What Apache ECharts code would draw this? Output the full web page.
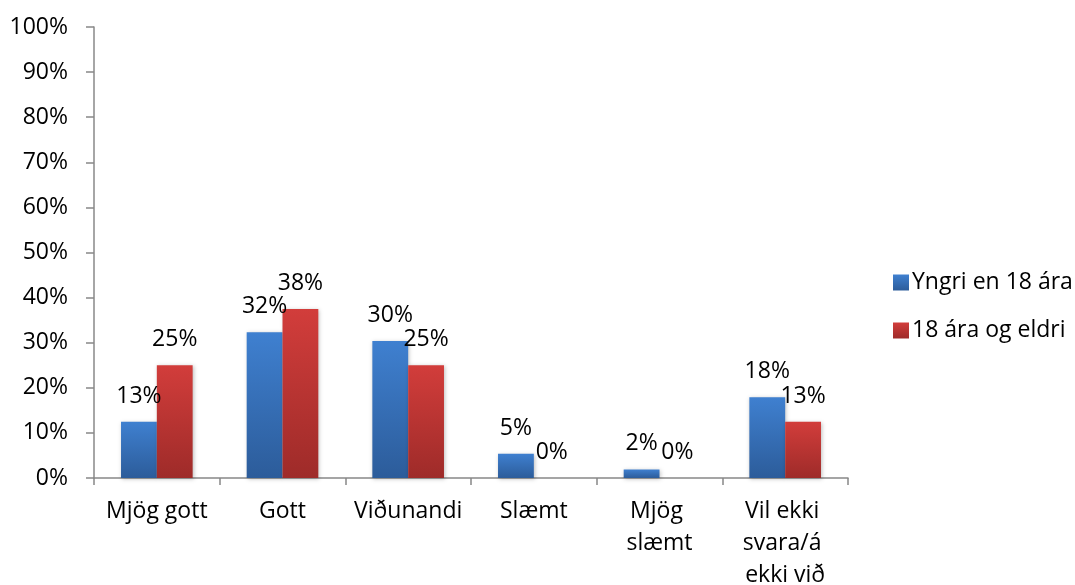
<!DOCTYPE html>
<html>
<head>
<meta charset="utf-8">
<script src="https://cdn.jsdelivr.net/npm/echarts@6/dist/echarts.min.js"></script>
<style>
  html, body { margin: 0; padding: 0; background: #fff; }
  #chart { width: 1075px; height: 585px; }
</style>
</head>
<body>
<div id="chart"></div>
<script>
const categories = ['Mjög gott', 'Gott', 'Viðunandi', 'Slæmt', 'Mjög slæmt', 'Vil ekki svara/á ekki við'];
const seriesNames = ['Yngri en 18 ára', '18 ára og eldri'];
const youngerValues = [12.5, 32.3, 30.4, 5.4, 1.9, 17.9];
const olderValues = [25, 37.5, 25, 0, 0, 12.5];
const yTicks = { min: 0, max: 100, step: 10 };

const font = '"Open Sans", "DejaVu Sans", sans-serif';

function grad(top, bottom) {
  return new echarts.graphic.LinearGradient(0, 0, 0, 1, [
    { offset: 0, color: top },
    { offset: 1, color: bottom }
  ]);
}

const barLabel = {
  show: true,
  position: 'top',
  distance: 14,
  color: '#000',
  fontFamily: font,
  fontSize: 23,
  formatter: p => Math.round(p.value) + '%'
};

const chart = echarts.init(document.getElementById('chart'));
chart.setOption({
  animation: false,
  textStyle: { fontFamily: font },
  grid: { left: 94, right: 227, top: 27, bottom: 107, containLabel: false, outerBoundsMode: 'none' },
  legend: {
    orient: 'vertical',
    left: 888,
    top: 266,
    itemWidth: 16,
    itemHeight: 16,
    itemGap: 25,
    icon: 'rect',
    textStyle: { fontFamily: font, fontSize: 23, color: '#000', padding: [0, 0, 0, -2] },
    data: seriesNames
  },
  xAxis: {
    type: 'category',
    data: categories,
    axisLine: { lineStyle: { color: '#888', width: 1.5 } },
    axisTick: { show: true, length: 7, lineStyle: { color: '#888', width: 1.5 } },
    axisLabel: {
      color: '#000',
      fontFamily: font,
      fontSize: 23,
      lineHeight: 32,
      margin: 17,
      width: 118,
      overflow: 'break',
      interval: 0
    }
  },
  yAxis: {
    type: 'value',
    min: yTicks.min,
    max: yTicks.max,
    interval: yTicks.step,
    splitLine: { show: false },
    axisLine: { show: true, lineStyle: { color: '#888', width: 1.5 } },
    axisTick: { show: true, length: 8, lineStyle: { color: '#888', width: 1.5 } },
    axisLabel: {
      color: '#000',
      fontFamily: font,
      fontSize: 23,
      margin: 26,
      formatter: '{value}%'
    }
  },
  series: [
    {
      name: seriesNames[0],
      type: 'bar',
      data: youngerValues,
      barGap: '0%',
      barCategoryGap: '43%',
      itemStyle: {
        color: grad('#3f80d0', '#2c5c9a'),
        shadowColor: 'rgba(0,0,0,0.25)',
        shadowBlur: 4,
        shadowOffsetX: 1,
        shadowOffsetY: 1
      },
      label: barLabel
    },
    {
      name: seriesNames[1],
      type: 'bar',
      data: olderValues,
      itemStyle: {
        color: grad('#d23d3b', '#9e2b29'),
        shadowColor: 'rgba(0,0,0,0.25)',
        shadowBlur: 4,
        shadowOffsetX: 1,
        shadowOffsetY: 1
      },
      label: barLabel
    }
  ]
});
</script>
</body>
</html>
